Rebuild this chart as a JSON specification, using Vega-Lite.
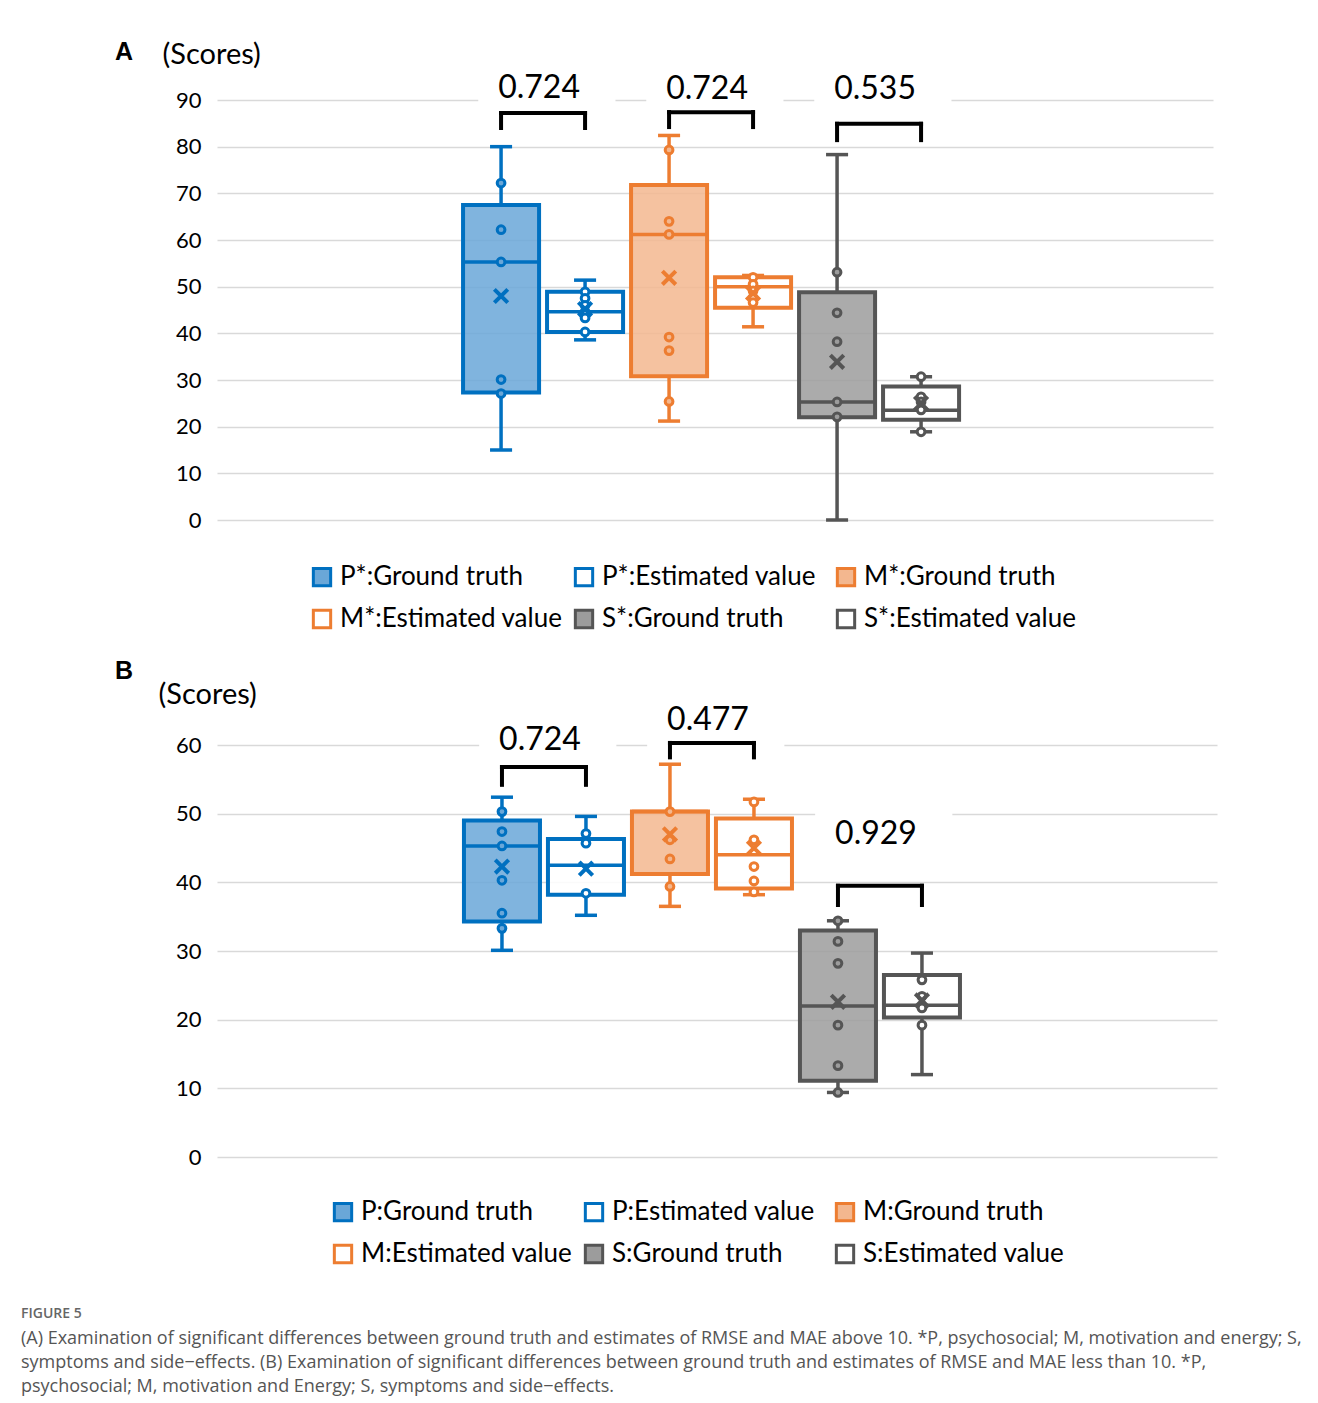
{
  "$schema": "https://vega.github.io/schema/vega-lite/v6.json",
  "background": "white",
  "padding": {"left": 21, "top": 40, "right": 10, "bottom": 8},
  "bounds": "flush",
  "spacing": 225,
  "resolve": {
    "scale": {"fill": "independent", "stroke": "independent", "x": "independent", "y": "independent"},
    "legend": {"fill": "independent", "stroke": "independent"}
  },
  "title": {
    "text": "FIGURE 5",
    "subtitle": [
      "(A) Examination of significant differences between ground truth and estimates of RMSE and MAE above 10. *P, psychosocial; M, motivation and energy; S,",
      "symptoms and side−effects. (B) Examination of significant differences between ground truth and estimates of RMSE and MAE less than 10. *P,",
      "psychosocial; M, motivation and Energy; S, symptoms and side−effects."
    ],
    "orient": "bottom", "anchor": "start", "frame": "group", "dx": -196, "offset": 38,
    "font": "Open Sans", "fontSize": 14, "fontWeight": 600, "color": "#666666",
    "subtitleFont": "Open Sans", "subtitleFontSize": 18, "subtitleColor": "#555555",
    "subtitleLineHeight": 24, "subtitlePadding": 9
  },
  "datasets": {
    "boxA": [
      {"series": "P*:Ground truth", "min": 15, "q1": 27.3, "median": 55.3, "q3": 67.5, "max": 80, "mean": 48},
      {"series": "P*:Estimated value", "min": 38.6, "q1": 40.3, "median": 44.6, "q3": 48.9, "max": 51.4, "mean": 45.2},
      {"series": "M*:Ground truth", "min": 21.2, "q1": 30.8, "median": 61.2, "q3": 71.8, "max": 82.4, "mean": 51.9},
      {"series": "M*:Estimated value", "min": 41.4, "q1": 45.5, "median": 50, "q3": 52, "max": 52.4, "mean": 48.6},
      {"series": "S*:Ground truth", "min": 0, "q1": 22, "median": 25.3, "q3": 48.8, "max": 78.3, "mean": 33.9},
      {"series": "S*:Estimated value", "min": 18.9, "q1": 21.5, "median": 23.5, "q3": 28.6, "max": 30.7, "mean": 25}
    ],
    "ptsA": [
      {"series": "P*:Ground truth", "value": 72.2}, {"series": "P*:Ground truth", "value": 62.2},
      {"series": "P*:Ground truth", "value": 55.3}, {"series": "P*:Ground truth", "value": 30.1},
      {"series": "P*:Ground truth", "value": 27.1},
      {"series": "P*:Estimated value", "value": 48.9}, {"series": "P*:Estimated value", "value": 47.5},
      {"series": "P*:Estimated value", "value": 46}, {"series": "P*:Estimated value", "value": 44.6},
      {"series": "P*:Estimated value", "value": 43.3}, {"series": "P*:Estimated value", "value": 40.3},
      {"series": "M*:Ground truth", "value": 79.3}, {"series": "M*:Ground truth", "value": 64},
      {"series": "M*:Ground truth", "value": 61.2}, {"series": "M*:Ground truth", "value": 39.2},
      {"series": "M*:Ground truth", "value": 36.3}, {"series": "M*:Ground truth", "value": 25.4},
      {"series": "M*:Estimated value", "value": 52}, {"series": "M*:Estimated value", "value": 50.5},
      {"series": "M*:Estimated value", "value": 49.1}, {"series": "M*:Estimated value", "value": 47.6},
      {"series": "M*:Estimated value", "value": 46.6},
      {"series": "S*:Ground truth", "value": 53.1}, {"series": "S*:Ground truth", "value": 44.4},
      {"series": "S*:Ground truth", "value": 38.2}, {"series": "S*:Ground truth", "value": 25.3},
      {"series": "S*:Ground truth", "value": 22.1},
      {"series": "S*:Estimated value", "value": 30.7}, {"series": "S*:Estimated value", "value": 26.4},
      {"series": "S*:Estimated value", "value": 25.3}, {"series": "S*:Estimated value", "value": 23.6},
      {"series": "S*:Estimated value", "value": 18.9}
    ],
    "brA": [
      {"from": "P*:Ground truth", "to": "P*:Estimated value", "top": 87.2, "bottom": 84, "p": "0.724", "labelY": 92.6, "bgLo": 88.6, "bgHi": 96.5},
      {"from": "M*:Ground truth", "to": "M*:Estimated value", "top": 87.4, "bottom": 84.2, "p": "0.724", "labelY": 92.4, "bgLo": 88.6, "bgHi": 96.5},
      {"from": "S*:Ground truth", "to": "S*:Estimated value", "top": 84.9, "bottom": 81.4, "p": "0.535", "labelY": 92.4, "bgLo": 88.6, "bgHi": 96.5}
    ],
    "boxB": [
      {"series": "P:Ground truth", "min": 30.1, "q1": 34.3, "median": 45.3, "q3": 49, "max": 52.4, "mean": 42.3},
      {"series": "P:Estimated value", "min": 35.2, "q1": 38.2, "median": 42.5, "q3": 46.3, "max": 49.6, "mean": 42},
      {"series": "M:Ground truth", "min": 36.5, "q1": 41.2, "median": 50.3, "q3": 50.3, "max": 57.2, "mean": 47},
      {"series": "M:Estimated value", "min": 38.2, "q1": 39.1, "median": 44, "q3": 49.3, "max": 52.1, "mean": 45},
      {"series": "S:Ground truth", "min": 9.4, "q1": 11.1, "median": 22, "q3": 33, "max": 34.4, "mean": 22.6},
      {"series": "S:Estimated value", "min": 12, "q1": 20.3, "median": 22.1, "q3": 26.5, "max": 29.7, "mean": 22.8}
    ],
    "ptsB": [
      {"series": "P:Ground truth", "value": 50.3}, {"series": "P:Ground truth", "value": 47.4},
      {"series": "P:Ground truth", "value": 45.3}, {"series": "P:Ground truth", "value": 40.3},
      {"series": "P:Ground truth", "value": 35.5}, {"series": "P:Ground truth", "value": 33.3},
      {"series": "P:Estimated value", "value": 47.1}, {"series": "P:Estimated value", "value": 45.7},
      {"series": "P:Estimated value", "value": 38.4},
      {"series": "M:Ground truth", "value": 50.3}, {"series": "M:Ground truth", "value": 46.2},
      {"series": "M:Ground truth", "value": 43.4}, {"series": "M:Ground truth", "value": 39.4},
      {"series": "M:Estimated value", "value": 51.7}, {"series": "M:Estimated value", "value": 46.2},
      {"series": "M:Estimated value", "value": 42.3}, {"series": "M:Estimated value", "value": 40.2},
      {"series": "M:Estimated value", "value": 38.6},
      {"series": "S:Ground truth", "value": 34.4}, {"series": "S:Ground truth", "value": 31.4},
      {"series": "S:Ground truth", "value": 28.2}, {"series": "S:Ground truth", "value": 19.2},
      {"series": "S:Ground truth", "value": 13.3}, {"series": "S:Ground truth", "value": 9.4},
      {"series": "S:Estimated value", "value": 25.8}, {"series": "S:Estimated value", "value": 23.4},
      {"series": "S:Estimated value", "value": 21.7}, {"series": "S:Estimated value", "value": 19.2}
    ],
    "brB": [
      {"from": "P:Ground truth", "to": "P:Estimated value", "top": 56.8, "bottom": 54.2, "p": "0.724", "labelY": 60.7, "bgLo": 59.2, "bgHi": 63.5},
      {"from": "M:Ground truth", "to": "M:Estimated value", "top": 60.3, "bottom": 58.2, "p": "0.477", "labelY": 63.6, "bgLo": 59.6, "bgHi": 66.5},
      {"from": "S:Ground truth", "to": "S:Estimated value", "top": 39.5, "bottom": 36.7, "p": "0.929", "labelY": 47, "bgLo": 44.5, "bgHi": 51.5}
    ]
  },
  "vconcat": [
    {
      "width": 996, "height": 420,
      "title": {"text": "A", "anchor": "start", "frame": "group", "font": "Liberation Sans", "fontSize": 25, "fontWeight": "bold", "color": "#000000", "dx": -102, "offset": -45, "baseline": "alphabetic"},
      "layer": [
        {"data": {"name": "brA"}, "mark": {"type": "rect", "color": "white"},
         "encoding": {
           "x": {"field": "from", "type": "nominal", "bandPosition": 0.2, "axis": null,
                 "scale": {"domain": [" l2", " l1", "P*:Ground truth", "P*:Estimated value", "M*:Ground truth", "M*:Estimated value", "S*:Ground truth", "S*:Estimated value", " r1", " r2"], "paddingInner": 0.095, "paddingOuter": 0.976, "align": 0.476}},
           "x2": {"field": "to", "bandPosition": 0.9},
           "y": {"field": "bgLo", "type": "quantitative"},
           "y2": {"field": "bgHi"}}},
        {"data": {"name": "boxA"}, "mark": {"type": "rule", "strokeWidth": 3.5},
         "encoding": {
           "x": {"field": "series", "type": "nominal", "axis": null},
           "y": {"field": "min", "type": "quantitative"}, "y2": {"field": "q1"},
           "stroke": {"field": "series", "type": "nominal"}}},
        {"data": {"name": "boxA"}, "mark": {"type": "rule", "strokeWidth": 3.5},
         "encoding": {
           "x": {"field": "series", "type": "nominal", "axis": null},
           "y": {"field": "q3", "type": "quantitative"}, "y2": {"field": "max"},
           "stroke": {"field": "series", "type": "nominal"}}},
        {"data": {"name": "boxA"}, "mark": {"type": "rule", "strokeWidth": 3.5},
         "encoding": {
           "x": {"field": "series", "type": "nominal", "bandPosition": 0.355, "axis": null},
           "x2": {"field": "series", "bandPosition": 0.645},
           "y": {"field": "min", "type": "quantitative"},
           "stroke": {"field": "series", "type": "nominal"}}},
        {"data": {"name": "boxA"}, "mark": {"type": "rule", "strokeWidth": 3.5},
         "encoding": {
           "x": {"field": "series", "type": "nominal", "bandPosition": 0.355, "axis": null},
           "x2": {"field": "series", "bandPosition": 0.645},
           "y": {"field": "max", "type": "quantitative"},
           "stroke": {"field": "series", "type": "nominal"}}},
        {"data": {"name": "boxA"}, "mark": {"type": "bar", "strokeWidth": 4, "fillOpacity": 0.85},
         "encoding": {
           "x": {"field": "series", "type": "nominal", "axis": null},
           "y": {"field": "q1", "type": "quantitative", "scale": {"domain": [0, 90], "nice": false},
                 "axis": {"values": [0, 10, 20, 30, 40, 50, 60, 70, 80, 90], "title": "(Scores)", "titleX": -55, "titleY": -37}},
           "y2": {"field": "q3"},
           "fill": {"field": "series", "type": "nominal",
                    "scale": {"domain": ["P*:Ground truth", "P*:Estimated value", "M*:Ground truth", "M*:Estimated value", "S*:Ground truth", "S*:Estimated value"], "range": ["#6AA7D8", "#FFFFFF", "#F3B78F", "#FFFFFF", "#9C9C9C", "#FFFFFF"]},
                    "legend": {"orient": "none", "legendX": 92, "legendY": 464, "title": null}},
           "stroke": {"field": "series", "type": "nominal",
                      "scale": {"domain": ["P*:Ground truth", "P*:Estimated value", "M*:Ground truth", "M*:Estimated value", "S*:Ground truth", "S*:Estimated value"], "range": ["#0070C0", "#0070C0", "#ED7D31", "#ED7D31", "#555555", "#555555"]},
                      "legend": {"orient": "none", "legendX": 92, "legendY": 464, "title": null}}}},
        {"data": {"name": "boxA"}, "mark": {"type": "rule", "strokeWidth": 3.5},
         "encoding": {
           "x": {"field": "series", "type": "nominal", "bandPosition": 0, "axis": null},
           "x2": {"field": "series", "bandPosition": 1},
           "y": {"field": "median", "type": "quantitative"},
           "stroke": {"field": "series", "type": "nominal"}}},
        {"data": {"name": "ptsA"}, "mark": {"type": "point", "shape": "circle", "size": 60, "strokeWidth": 3, "filled": true, "opacity": 1},
         "encoding": {
           "x": {"field": "series", "type": "nominal", "axis": null},
           "y": {"field": "value", "type": "quantitative"},
           "fill": {"field": "series", "type": "nominal"},
           "stroke": {"field": "series", "type": "nominal"}}},
        {"data": {"name": "boxA"}, "mark": {"type": "point", "shape": "M-1,-1L1,1M1,-1L-1,1", "size": 180, "strokeWidth": 4, "filled": false, "opacity": 1},
         "encoding": {
           "x": {"field": "series", "type": "nominal", "axis": null},
           "y": {"field": "mean", "type": "quantitative"},
           "stroke": {"field": "series", "type": "nominal"}}},
        {"data": {"name": "brA"}, "mark": {"type": "rule", "color": "#000000", "strokeWidth": 4, "strokeCap": "square"},
         "encoding": {
           "x": {"field": "from", "type": "nominal", "axis": null},
           "y": {"field": "bottom", "type": "quantitative"}, "y2": {"field": "top"}}},
        {"data": {"name": "brA"}, "mark": {"type": "rule", "color": "#000000", "strokeWidth": 4, "strokeCap": "square"},
         "encoding": {
           "x": {"field": "to", "type": "nominal", "axis": null},
           "y": {"field": "bottom", "type": "quantitative"}, "y2": {"field": "top"}}},
        {"data": {"name": "brA"}, "mark": {"type": "rule", "color": "#000000", "strokeWidth": 4, "strokeCap": "square"},
         "encoding": {
           "x": {"field": "from", "type": "nominal", "axis": null}, "x2": {"field": "to"},
           "y": {"field": "top", "type": "quantitative"}}},
        {"data": {"name": "brA"}, "mark": {"type": "text", "font": "Lato", "fontSize": 32, "color": "#000000", "baseline": "middle", "align": "center"},
         "encoding": {
           "x": {"field": "from", "type": "nominal", "bandPosition": 1, "axis": null},
           "y": {"field": "labelY", "type": "quantitative"},
           "text": {"field": "p", "type": "nominal"}}}
      ]
    },
    {
      "width": 1000, "height": 412,
      "title": {"text": "B", "anchor": "start", "frame": "group", "font": "Liberation Sans", "fontSize": 25, "fontWeight": "bold", "color": "#000000", "dx": -102, "offset": -24, "baseline": "alphabetic"},
      "layer": [
        {"data": {"name": "brB"}, "mark": {"type": "rect", "color": "white"},
         "encoding": {
           "x": {"field": "from", "type": "nominal", "bandPosition": 0.2, "axis": null,
                 "scale": {"domain": [" l2", " l1", "P:Ground truth", "P:Estimated value", "M:Ground truth", "M:Estimated value", "S:Ground truth", "S:Estimated value", " r1", " r2"], "paddingInner": 0.095, "paddingOuter": 1.0, "align": 0.47}},
           "x2": {"field": "to", "bandPosition": 0.9},
           "y": {"field": "bgLo", "type": "quantitative"},
           "y2": {"field": "bgHi"}}},
        {"data": {"name": "boxB"}, "mark": {"type": "rule", "strokeWidth": 3.5},
         "encoding": {
           "x": {"field": "series", "type": "nominal", "axis": null},
           "y": {"field": "min", "type": "quantitative"}, "y2": {"field": "q1"},
           "stroke": {"field": "series", "type": "nominal"}}},
        {"data": {"name": "boxB"}, "mark": {"type": "rule", "strokeWidth": 3.5},
         "encoding": {
           "x": {"field": "series", "type": "nominal", "axis": null},
           "y": {"field": "q3", "type": "quantitative"}, "y2": {"field": "max"},
           "stroke": {"field": "series", "type": "nominal"}}},
        {"data": {"name": "boxB"}, "mark": {"type": "rule", "strokeWidth": 3.5},
         "encoding": {
           "x": {"field": "series", "type": "nominal", "bandPosition": 0.355, "axis": null},
           "x2": {"field": "series", "bandPosition": 0.645},
           "y": {"field": "min", "type": "quantitative"},
           "stroke": {"field": "series", "type": "nominal"}}},
        {"data": {"name": "boxB"}, "mark": {"type": "rule", "strokeWidth": 3.5},
         "encoding": {
           "x": {"field": "series", "type": "nominal", "bandPosition": 0.355, "axis": null},
           "x2": {"field": "series", "bandPosition": 0.645},
           "y": {"field": "max", "type": "quantitative"},
           "stroke": {"field": "series", "type": "nominal"}}},
        {"data": {"name": "boxB"}, "mark": {"type": "bar", "strokeWidth": 4, "fillOpacity": 0.85},
         "encoding": {
           "x": {"field": "series", "type": "nominal", "axis": null},
           "y": {"field": "q1", "type": "quantitative", "scale": {"domain": [0, 60], "nice": false},
                 "axis": {"values": [0, 10, 20, 30, 40, 50, 60], "title": "(Scores)", "titleX": -59, "titleY": -42}},
           "y2": {"field": "q3"},
           "fill": {"field": "series", "type": "nominal",
                    "scale": {"domain": ["P:Ground truth", "P:Estimated value", "M:Ground truth", "M:Estimated value", "S:Ground truth", "S:Estimated value"], "range": ["#6AA7D8", "#FFFFFF", "#F3B78F", "#FFFFFF", "#9C9C9C", "#FFFFFF"]},
                    "legend": {"orient": "none", "legendX": 113, "legendY": 454, "title": null}},
           "stroke": {"field": "series", "type": "nominal",
                      "scale": {"domain": ["P:Ground truth", "P:Estimated value", "M:Ground truth", "M:Estimated value", "S:Ground truth", "S:Estimated value"], "range": ["#0070C0", "#0070C0", "#ED7D31", "#ED7D31", "#555555", "#555555"]},
                      "legend": {"orient": "none", "legendX": 113, "legendY": 454, "title": null}}}},
        {"data": {"name": "boxB"}, "mark": {"type": "rule", "strokeWidth": 3.5},
         "encoding": {
           "x": {"field": "series", "type": "nominal", "bandPosition": 0, "axis": null},
           "x2": {"field": "series", "bandPosition": 1},
           "y": {"field": "median", "type": "quantitative"},
           "stroke": {"field": "series", "type": "nominal"}}},
        {"data": {"name": "ptsB"}, "mark": {"type": "point", "shape": "circle", "size": 60, "strokeWidth": 3, "filled": true, "opacity": 1},
         "encoding": {
           "x": {"field": "series", "type": "nominal", "axis": null},
           "y": {"field": "value", "type": "quantitative"},
           "fill": {"field": "series", "type": "nominal"},
           "stroke": {"field": "series", "type": "nominal"}}},
        {"data": {"name": "boxB"}, "mark": {"type": "point", "shape": "M-1,-1L1,1M1,-1L-1,1", "size": 180, "strokeWidth": 4, "filled": false, "opacity": 1},
         "encoding": {
           "x": {"field": "series", "type": "nominal", "axis": null},
           "y": {"field": "mean", "type": "quantitative"},
           "stroke": {"field": "series", "type": "nominal"}}},
        {"data": {"name": "brB"}, "mark": {"type": "rule", "color": "#000000", "strokeWidth": 4, "strokeCap": "square"},
         "encoding": {
           "x": {"field": "from", "type": "nominal", "axis": null},
           "y": {"field": "bottom", "type": "quantitative"}, "y2": {"field": "top"}}},
        {"data": {"name": "brB"}, "mark": {"type": "rule", "color": "#000000", "strokeWidth": 4, "strokeCap": "square"},
         "encoding": {
           "x": {"field": "to", "type": "nominal", "axis": null},
           "y": {"field": "bottom", "type": "quantitative"}, "y2": {"field": "top"}}},
        {"data": {"name": "brB"}, "mark": {"type": "rule", "color": "#000000", "strokeWidth": 4, "strokeCap": "square"},
         "encoding": {
           "x": {"field": "from", "type": "nominal", "axis": null}, "x2": {"field": "to"},
           "y": {"field": "top", "type": "quantitative"}}},
        {"data": {"name": "brB"}, "mark": {"type": "text", "font": "Lato", "fontSize": 32, "color": "#000000", "baseline": "middle", "align": "center"},
         "encoding": {
           "x": {"field": "from", "type": "nominal", "bandPosition": 1, "axis": null},
           "y": {"field": "labelY", "type": "quantitative"},
           "text": {"field": "p", "type": "nominal"}}}
      ]
    }
  ],
  "config": {
    "view": {"stroke": null},
    "font": "Lato",
    "axis": {
      "grid": true, "gridColor": "#D9D9D9", "gridWidth": 1.5, "domain": false, "ticks": false,
      "labelFont": "Lato", "labelFontSize": 22, "labelColor": "#000000", "labelPadding": 16,
      "titleFont": "Lato", "titleFontSize": 29, "titleFontWeight": "normal", "titleColor": "#000000",
      "titleAngle": 0, "titleAlign": "left", "titleBaseline": "alphabetic"
    },
    "legend": {
      "columns": 3, "direction": "horizontal", "symbolType": "square", "symbolSize": 300,
      "symbolStrokeWidth": 3, "labelFont": "Lato", "labelFontSize": 26, "labelColor": "#000000",
      "labelLimit": 400, "labelOffset": 5, "gridAlign": "all", "columnPadding": 6, "rowPadding": 12
    }
  }
}
